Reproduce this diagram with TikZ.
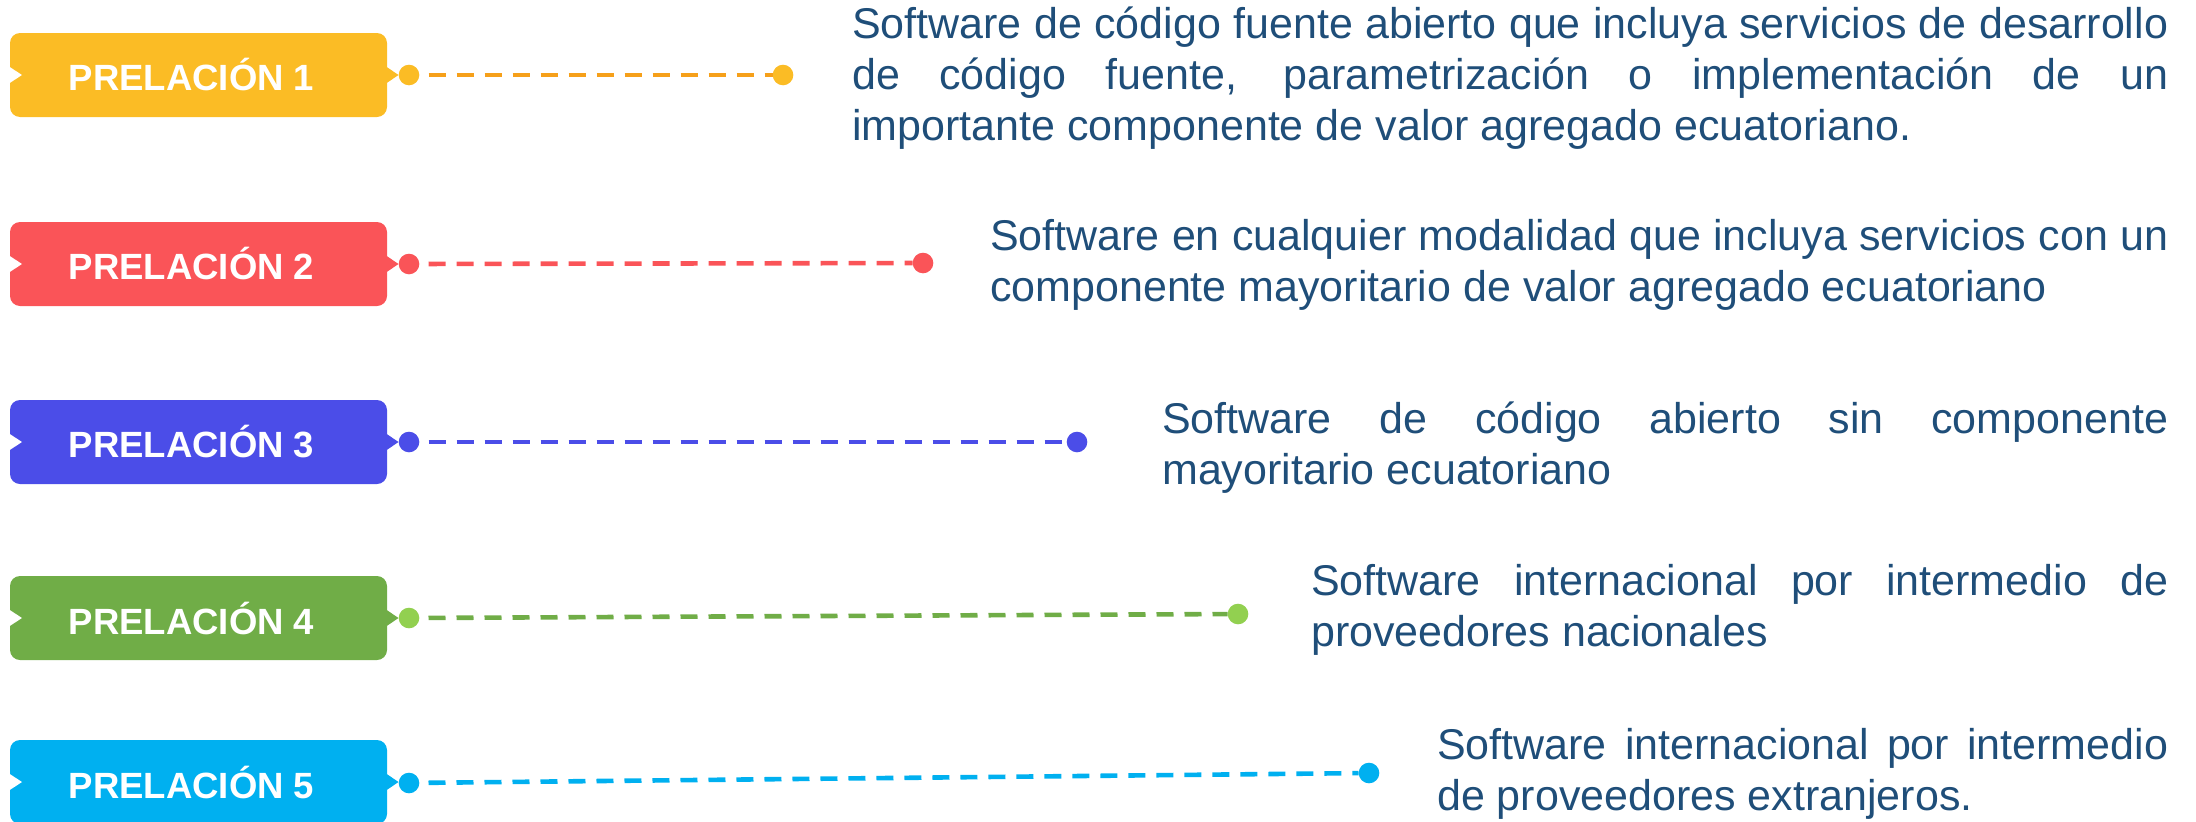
\documentclass[tikz,border=0pt]{standalone}
\usepackage{fontspec}
\setmainfont{Liberation Sans}
\definecolor{txtblue}{HTML}{1F4E79}
\definecolor{cA}{HTML}{FBBC25}
\definecolor{cAline}{HTML}{F6A01A}
\definecolor{cB}{HTML}{FA5458}
\definecolor{cC}{HTML}{4B4DE8}
\definecolor{cD}{HTML}{70AD47}
\definecolor{cDdot}{HTML}{92D050}
\definecolor{cE}{HTML}{00B0F0}
\newcommand{\mypara}[2]{\parbox[t]{#1}{\fontsize{43pt}{51pt}\selectfont\spaceskip=0.278em plus 1em minus 0.08em\hyphenpenalty=10000\tolerance=10000 #2}}
\begin{document}
\begin{tikzpicture}[x=1pt,y=-1pt,
  prbox/.style={rectangle, rounded corners=10pt, minimum width=377pt, minimum height=84pt, inner sep=0pt},
  lbl/.style={inner sep=0pt, text=white, font=\bfseries\fontsize{36.5pt}{40pt}\selectfont},
  dotnode/.style={circle, minimum size=20.6pt, inner sep=0pt},
  dashline/.style={line width=4.6pt, dash pattern=on 17pt off 11pt, dash phase=19pt},
  txt/.style={inner sep=0pt, anchor=base west, text=txtblue}]
\useasboundingbox (0,0) rectangle (2196,822);
\clip (0,0) rectangle (2196,822);
% helper for box with notch and tip
\newcommand{\prelbox}[4]{%
  % #1 name, #2 center y, #3 colour, #4 label
  \node[prbox, fill=#3] (#1) at (198.5,#2) {};
  \fill[#3] (386,#2-8.5) -- (398.5,#2) -- (386,#2+8.5) -- cycle;
  \fill[white] (9,#2-8.5) -- (22,#2) -- (9,#2+8.5) -- cycle;
  \node[lbl] (#1l) at ([xshift=-7pt]#1.center) {#4};
}
\prelbox{b1}{75}{cA}{PRELACIÓN 1}
\prelbox{b2}{264}{cB}{PRELACIÓN 2}
\prelbox{b3}{442}{cC}{PRELACIÓN 3}
\prelbox{b4}{618}{cD}{PRELACIÓN 4}
\prelbox{b5}{782}{cE}{PRELACIÓN 5}
% dots
\node[dotnode, fill=cA] (s1) at (409,75) {};
\node[dotnode, fill=cA] (e1) at (783,75) {};
\node[dotnode, fill=cB] (s2) at (409,264) {};
\node[dotnode, fill=cB] (e2) at (923,263) {};
\node[dotnode, fill=cC] (s3) at (409,442) {};
\node[dotnode, fill=cC] (e3) at (1077,442) {};
\node[dotnode, fill=cDdot] (s4) at (409,618) {};
\node[dotnode, fill=cDdot] (e4) at (1238,614) {};
\node[dotnode, fill=cE] (s5) at (409,783) {};
\node[dotnode, fill=cE] (e5) at (1369,773) {};
% connectors
\draw[dashline, cAline] (s1) -- (e1);
\draw[dashline, cB] (s2) -- (e2);
\draw[dashline, cC] (s3) -- (e3);
\draw[dashline, cD] (s4) -- (e4);
\draw[dashline, cE] (s5) -- (e5);
% texts
\node[txt] (t1) at (852,38) {\mypara{1316pt}{Software de código fuente abierto que incluya servicios de desarrollo\linebreak de código fuente, parametrización o implementación de un\linebreak importante componente de valor agregado ecuatoriano.}};
\node[txt] (t2) at (990,250) {\mypara{1178pt}{Software en cualquier modalidad que incluya servicios con un\linebreak componente mayoritario de valor agregado ecuatoriano}};
\node[txt] (t3) at (1162,433) {\mypara{1006pt}{Software de código abierto sin componente\linebreak mayoritario ecuatoriano}};
\node[txt] (t4) at (1311,595) {\mypara{857pt}{Software internacional por intermedio de\linebreak proveedores nacionales}};
\node[txt] (t5) at (1437,759) {\mypara{731pt}{Software internacional por intermedio\linebreak de proveedores extranjeros.}};
\end{tikzpicture}
\end{document}
